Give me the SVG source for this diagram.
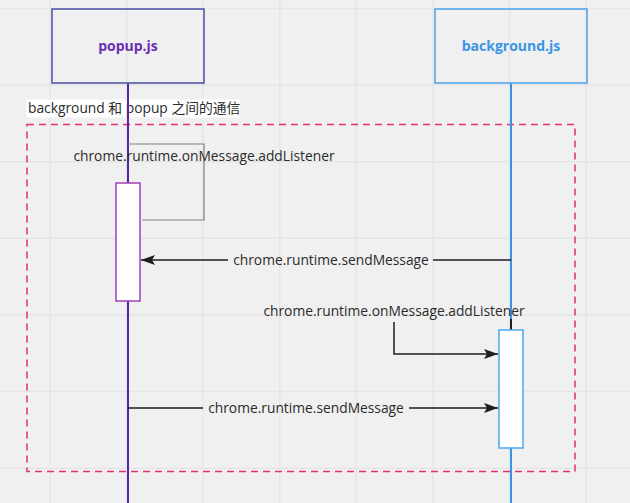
<svg xmlns="http://www.w3.org/2000/svg" width="630" height="503" viewBox="0 0 630 503">
<defs>
<style>
.grid{stroke:#e5e5e5;stroke-width:1.5;fill:none}
.t{font-family:"Open Sans","Noto Sans CJK SC",sans-serif;font-size:13.8px;fill:#2b2b2b}
.title{font-family:"Open Sans",sans-serif;font-size:14px;font-weight:bold;text-anchor:middle}
.msg{stroke:#1e1e1e;stroke-width:1.5;fill:none}
</style>
<marker id="arr" viewBox="0 0 14 10" refX="14" refY="5" markerWidth="14" markerHeight="10" markerUnits="userSpaceOnUse" orient="auto">
<path d="M0,0 L14,5 L0,10 L3,5 Z" fill="#1e1e1e"/>
</marker>
</defs>
<rect width="630" height="503" fill="#f0f0f0"/>
<g id="grid" class="grid">
<path d="M50,0V503M126.6,0V503M203.2,0V503M279.8,0V503M356.4,0V503M433,0V503M509.6,0V503M586.2,0V503"/>
<path d="M0,8.5H630M0,85H630M0,161.7H630M0,238.3H630M0,315H630M0,391.6H630M0,468.2H630"/>
</g>
<g id="frame">
<rect x="27" y="124.5" width="548" height="347" fill="none" stroke="#e0326e" stroke-width="1.5" stroke-dasharray="7,5"/>
<rect x="26.5" y="99.5" width="213" height="18" fill="#ffffff"/>
<text class="t" x="28" y="113">background 和 popup 之间的通信</text>
</g>
<g id="popup">
<line x1="128" y1="83" x2="128" y2="503" stroke="#5a24a8" stroke-width="2"/>
<rect x="52" y="9" width="152" height="74" fill="none" stroke="#4a4ea6" stroke-width="1.5"/>
<text class="title" x="128" y="51" fill="#6a2fb4">popup.js</text>
</g>
<g id="background">
<line x1="511" y1="83" x2="511" y2="503" stroke="#3a92e2" stroke-width="2"/>
<line x1="511" y1="319" x2="511" y2="330" stroke="#1e1e1e" stroke-width="2"/>
<rect x="435" y="9" width="152" height="74" fill="none" stroke="#4aa2ea" stroke-width="1.5"/>
<text class="title" x="511" y="51" fill="#3a95e6">background.js</text>
</g>
<g id="popup-activation">
<rect x="116" y="183" width="24" height="118" fill="#ffffff" stroke="#a340b8" stroke-width="1.5"/>
</g>
<g id="background-activation">
<rect x="499" y="330" width="24" height="118" fill="#ffffff" stroke="#4aa8f0" stroke-width="1.5"/>
</g>
<g id="connectors">
<path d="M128,144H204V220H142" stroke="#808080" stroke-width="1.2" fill="none"/>
<path class="msg" d="M228,260H141" marker-end="url(#arr)"/>
<path class="msg" d="M511,260H433"/>
<path class="msg" d="M394,322V354H498" marker-end="url(#arr)"/>
<path class="msg" d="M128,408H203"/>
<path class="msg" d="M409,408H498" marker-end="url(#arr)"/>
</g>
<g id="labels">
<text class="t" x="204" y="161" text-anchor="middle">chrome.runtime.onMessage.addListener</text>
<text class="t" x="331" y="265" text-anchor="middle">chrome.runtime.sendMessage</text>
<text class="t" x="394" y="316" text-anchor="middle">chrome.runtime.onMessage.addListener</text>
<text class="t" x="306" y="413" text-anchor="middle">chrome.runtime.sendMessage</text>
</g>
</svg>
